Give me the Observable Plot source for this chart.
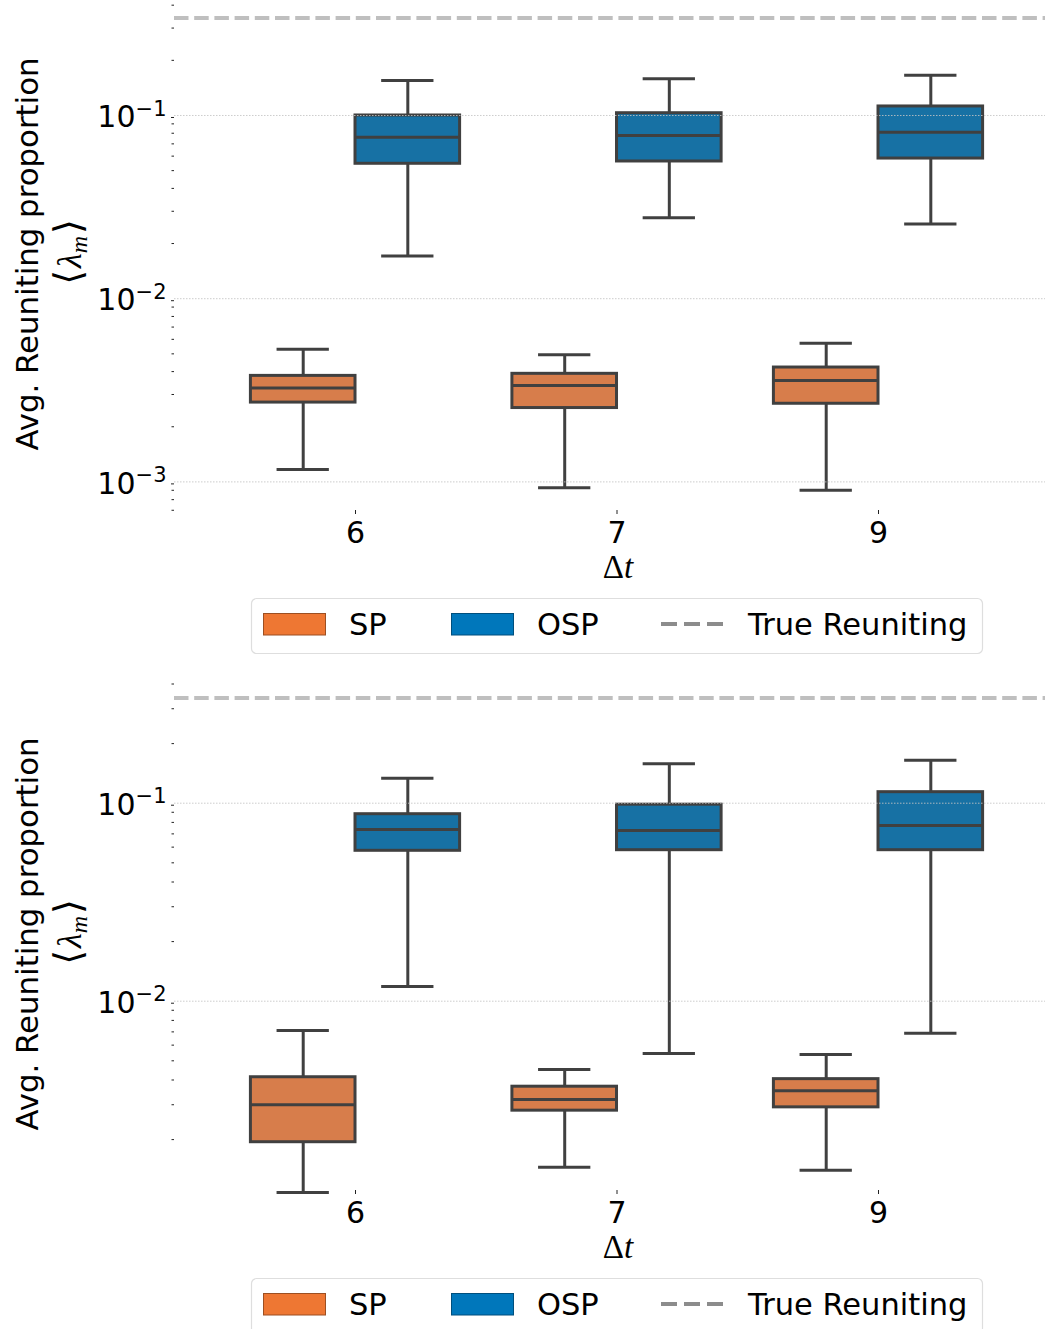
<!DOCTYPE html>
<html>
<head>
<meta charset="utf-8">
<script src="https://cdn.jsdelivr.net/npm/d3@7"></script>
<script src="https://cdn.jsdelivr.net/npm/@observablehq/plot@0.6"></script>
<style>
  html, body { margin: 0; padding: 0; background: #fff; }
  #root { position: relative; width: 1050px; height: 1329px; overflow: hidden; background: #fff; font-family: "DejaVu Sans", sans-serif; }
  .abs { position: absolute; left: 0; }
</style>
</head>
<body>
<div id="root"></div>
<script>
// ---------------- data ----------------
const dtLabels = ["6", "7", "9"];
const seriesNames = ["SP", "OSP"];
const trueReuniting = 0.34;
const yLabelLine1 = "Avg. Reuniting proportion";
const xLabel = "Δt";
const legendTrue = "True Reuniting";

// Panel A (top)
const spA_low  = [0.00117, 0.00093, 0.00090];
const spA_q1   = [0.00271, 0.00253, 0.00267];
const spA_med  = [0.00326, 0.00336, 0.00358];
const spA_q3   = [0.00379, 0.00389, 0.00421];
const spA_high = [0.00530, 0.00494, 0.00572];
const ospA_low  = [0.0171, 0.0277, 0.0256];
const ospA_q1   = [0.0545, 0.0561, 0.0582];
const ospA_med  = [0.0761, 0.0778, 0.0811];
const ospA_q3   = [0.1000, 0.1029, 0.1120];
const ospA_high = [0.1552, 0.1586, 0.1660];

// Panel B (bottom)
const spB_low  = [0.00108, 0.00145, 0.00140];
const spB_q1   = [0.00194, 0.00280, 0.00291];
const spB_med  = [0.00300, 0.00319, 0.00353];
const spB_q3   = [0.00413, 0.00370, 0.00404];
const spB_high = [0.00711, 0.00452, 0.00538];
const ospB_low  = [0.01186, 0.00544, 0.00689];
const ospB_q1   = [0.0575, 0.0579, 0.0579];
const ospB_med  = [0.0737, 0.0728, 0.0772];
const ospB_q3   = [0.0880, 0.0983, 0.1137];
const ospB_high = [0.1337, 0.1581, 0.1649];

const majorTicks = [1e-3, 1e-2, 1e-1];

// ---------------- style ----------------
const edge = "#404040";
const fillSP = "#D77D4B", fillOSP = "#1771A4";
const legSP = "#EE7733", legOSP = "#0077BB";

function buildRows(sp, osp) {
  const rows = [];
  dtLabels.forEach((lab, i) => {
    rows.push({series: seriesNames[0], c: i - 0.2, x1: i - 0.4, x2: i,
      low: sp[0][i], q1: sp[1][i], med: sp[2][i], q3: sp[3][i], high: sp[4][i]});
    rows.push({series: seriesNames[1], c: i + 0.2, x1: i, x2: i + 0.4,
      low: osp[0][i], q1: osp[1][i], med: osp[2][i], q3: osp[3][i], high: osp[4][i]});
  });
  return rows;
}

function minorTicksIn(domain) {
  const out = [];
  for (let e = -5; e <= 0; e++) for (let m = 2; m <= 9; m++) {
    const v = m * Math.pow(10, e);
    if (v >= domain[0] && v <= domain[1]) out.push(v);
  }
  return out;
}

function makePanel(opts) {
  const rows = buildRows(opts.sp, opts.osp);
  const sp = rows.filter(d => d.series === "SP");
  const osp = rows.filter(d => d.series === "OSP");
  const majors = majorTicks.filter(v => v >= opts.domain[0] && v <= opts.domain[1]);
  const lw = 3;
  const svg = Plot.plot({
    width: 1050,
    height: opts.height,
    marginLeft: 174,
    marginRight: 5,
    marginTop: opts.marginTop,
    marginBottom: opts.marginBottom,
    style: {fontFamily: "'DejaVu Sans', sans-serif", fontSize: "30px", color: "#000", background: "transparent", overflow: "visible"},
    x: {type: "linear", domain: [-0.6922, 2.6386], axis: null, label: null},
    y: {type: "log", domain: opts.domain, axis: null, label: null},
    marks: [
      Plot.ruleY([trueReuniting], {stroke: "#bfbfbf", strokeWidth: 4, strokeDasharray: "14.5,5.7"}),
      Plot.ruleX(rows, {x: "c", y1: "low", y2: "q1", stroke: edge, strokeWidth: lw}),
      Plot.ruleX(rows, {x: "c", y1: "q3", y2: "high", stroke: edge, strokeWidth: lw}),
      Plot.ruleY(rows, {y: "low", x1: d => d.c - 0.1, x2: d => d.c + 0.1, stroke: edge, strokeWidth: lw}),
      Plot.ruleY(rows, {y: "high", x1: d => d.c - 0.1, x2: d => d.c + 0.1, stroke: edge, strokeWidth: lw}),
      Plot.rect(sp, {x1: "x1", x2: "x2", y1: "q1", y2: "q3", fill: fillSP, stroke: edge, strokeWidth: lw}),
      Plot.rect(osp, {x1: "x1", x2: "x2", y1: "q1", y2: "q3", fill: fillOSP, stroke: edge, strokeWidth: lw}),
      Plot.ruleY(rows, {y: "med", x1: "x1", x2: "x2", stroke: edge, strokeWidth: lw}),
      Plot.gridY(majors, {stroke: "#c4c4c4", strokeOpacity: 0.85, strokeWidth: 1, strokeDasharray: "1.5,1.5"}),
      Plot.axisY(minorTicksIn(opts.domain), {tickSize: 2.5, tickFormat: () => "", label: null, stroke: "#222"}),
      Plot.axisY(majors, {tickSize: 3, tickPadding: 5, dy: 2, fontSize: 30, label: null, stroke: "#222",
        tickFormat: d => "10^" + Math.round(Math.log10(d))}),
      Plot.axisX([0, 1, 2], {tickSize: 4, tickPadding: 7, fontSize: 30, label: null, stroke: "#222",
        tickFormat: i => dtLabels[i]})
    ]
  });
  // superscript exponents
  d3.select(svg).selectAll("text").each(function() {
    const t = this.textContent;
    if (t && t.startsWith("10^")) {
      const e = t.slice(3).replace("-", "\u2212");
      const sel = d3.select(this);
      sel.text("10");
      sel.append("tspan").attr("dy", -11.5).attr("font-size", 21).text(e);
    }
  });
  const s = d3.select(svg);
  // y label (two lines)
  s.append("text")
    .attr("transform", `translate(37.5,${opts.ylabelY}) rotate(-90)`)
    .attr("text-anchor", "middle")
    .attr("font-family", "'DejaVu Sans', sans-serif")
    .attr("font-size", 30.8)
    .attr("fill", "#000")
    .text(yLabelLine1);
  const l2 = s.append("text")
    .attr("transform", `translate(81,${opts.ylabel2Y}) rotate(-90)`)
    .attr("text-anchor", "middle")
    .attr("font-family", "'Liberation Serif', 'DejaVu Serif', serif")
    .attr("font-size", 34)
    .attr("fill", "#000");
  l2.append("tspan").attr("font-family", "'DejaVu Sans', sans-serif").attr("font-size", 38).text("\u27E8");
  l2.append("tspan").attr("font-style", "italic").attr("dx", 2).text("λ");
  l2.append("tspan").attr("font-style", "italic").attr("font-size", 24).attr("dy", 6).text("m");
  l2.append("tspan").attr("font-family", "'DejaVu Sans', sans-serif").attr("font-size", 38).attr("dy", -6).attr("dx", 2).text("\u27E9");
  // x label
  const xl = s.append("text")
    .attr("x", 618).attr("y", opts.xlabelY)
    .attr("text-anchor", "middle")
    .attr("font-family", "'Liberation Serif', 'DejaVu Serif', serif")
    .attr("font-size", 33)
    .attr("fill", "#000");
  xl.append("tspan").text(xLabel[0]);
  xl.append("tspan").attr("font-style", "italic").text(xLabel.slice(1));
  return svg;
}

function makeLegend() {
  const ns = "http://www.w3.org/2000/svg";
  const div = document.createElement("div");
  div.innerHTML = `<svg xmlns="${ns}" width="1050" height="70" style="display:block;font-family:'DejaVu Sans',sans-serif">
    <rect x="251.5" y="8.5" width="731" height="55" rx="5" ry="5" fill="#fff" stroke="#dedede" stroke-width="1.2"></rect>
    <rect x="263.5" y="23.5" width="62" height="21.5" fill="${legSP}" stroke="#9c4f22" stroke-width="1"></rect>
    <text x="349" y="45" font-size="30.5" fill="#000">${seriesNames[0]}</text>
    <rect x="451.5" y="23.5" width="62" height="21.5" fill="${legOSP}" stroke="#004f7d" stroke-width="1"></rect>
    <text x="537" y="45" font-size="30.5" fill="#000">${seriesNames[1]}</text>
    <line x1="661" x2="723" y1="34" y2="34" stroke="#8c8c8c" stroke-width="4" stroke-dasharray="16,7"></line>
    <text x="748" y="45" font-size="30.5" fill="#000">${legendTrue}</text>
  </svg>`;
  return div.firstElementChild;
}

const root = document.getElementById("root");

function place(el, top) {
  const w = document.createElement("div");
  w.className = "abs";
  w.style.top = top + "px";
  w.appendChild(el);
  root.appendChild(w);
}

// top panel: plot spans y 0..510 in page
const panelA = makePanel({
  sp: [spA_low, spA_q1, spA_med, spA_q3, spA_high],
  osp: [ospA_low, ospA_q1, ospA_med, ospA_q3, ospA_high],
  domain: [6.9807e-4, 0.42425],
  height: 590, marginTop: 0, marginBottom: 80,
  ylabelY: 254, ylabel2Y: 252, xlabelY: 578
});
place(panelA, 0);
place(makeLegend(), 590);

// bottom panel: page offset 660, plot spans y 671..1190
const panelB = makePanel({
  sp: [spB_low, spB_q1, spB_med, spB_q3, spB_high],
  osp: [ospB_low, ospB_q1, ospB_med, ospB_q3, ospB_high],
  domain: [1.1065e-3, 0.46263],
  height: 610, marginTop: 11, marginBottom: 80,
  ylabelY: 274, ylabel2Y: 272, xlabelY: 598
});
place(panelB, 660);
place(makeLegend(), 1270);
</script>
</body>
</html>
